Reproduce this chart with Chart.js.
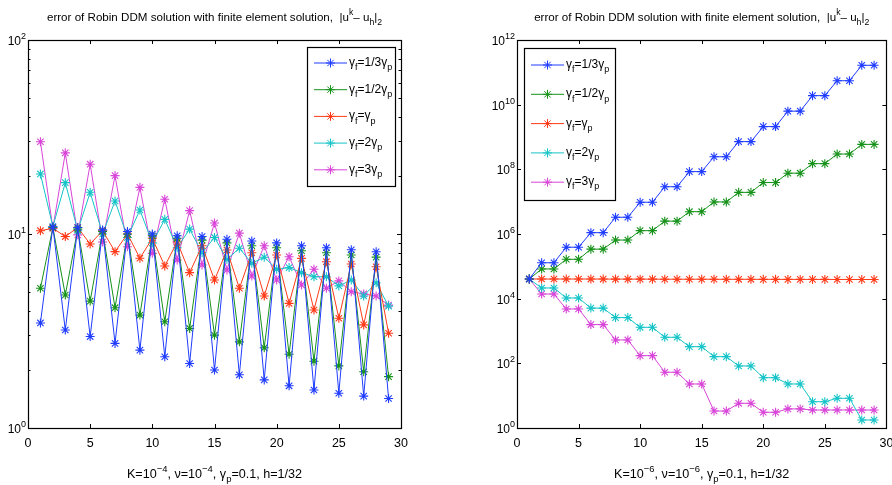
<!DOCTYPE html>
<html>
<head>
<meta charset="utf-8">
<script src="https://cdn.jsdelivr.net/npm/chart.js@4.4.1/dist/chart.umd.min.js"></script>
<style>
  html, body { margin: 0; padding: 0; background: #fff; }
  .panel { position: absolute; top: 0; width: 446px; height: 485px; }
</style>
</head>
<body>
<div class="panel" style="left:0"><canvas id="leftChart"></canvas></div>
<div class="panel" style="left:446px"><canvas id="rightChart"></canvas></div>
<script>
// iteration counter k
var iterations = [1,2,3,4,5,6,7,8,9,10,11,12,13,14,15,16,17,18,19,20,21,22,23,24,25,26,27,28,29];

// legend names (TeX-like: _ subscript, ^ superscript)
var seriesNames = ['γ_f=1/3γ_p', 'γ_f=1/2γ_p', 'γ_f=γ_p', 'γ_f=2γ_p', 'γ_f=3γ_p'];
var seriesColors = ['#1f3cff', '#17921b', '#ff3a18', '#16c4c8', '#d845d8'];

// left panel: K=1e-4
var leftThird = [3.48,10.9,3.2,10.8,2.96,10.5,2.73,10.3,2.52,10.0,2.33,9.8,2.15,9.7,1.99,9.4,1.88,9.2,1.77,9.0,1.65,8.7,1.57,8.5,1.51,8.3,1.46,8.1,1.42];
var leftHalf  = [5.25,10.8,4.85,10.6,4.51,10.3,4.17,10.0,3.82,9.8,3.53,9.5,3.26,9.3,3.01,9.0,2.78,8.7,2.59,8.5,2.40,8.2,2.21,8.0,2.09,7.8,1.95,7.6,1.84];
var leftOne   = [10.4,10.7,9.7,10.8,8.88,10.4,8.11,10.0,7.50,9.5,6.84,9.1,6.32,8.7,5.79,8.27,5.25,8.0,4.79,7.79,4.39,7.49,4.06,7.2,3.68,7.0,3.40,6.78,3.08];
var leftTwo   = [20.4,10.9,18.4,10.4,16.4,10.0,14.8,9.6,13.3,9.0,11.9,8.5,10.6,8.0,9.6,7.4,8.44,7.06,7.59,6.58,6.71,6.32,6.02,6.02,5.40,5.79,4.79,5.61,4.25];
var leftThree = [29.9,10.7,26.2,9.9,22.9,9.1,20.0,8.6,17.4,7.95,15.1,7.35,13.2,6.92,11.4,6.52,10.1,6.07,8.7,5.79,7.64,5.46,6.58,5.25,5.73,5.04,4.91,4.79,4.30];

// right panel: K=1e-6
var rightThird = [4.07e4,1.29e5,1.29e5,3.9e5,3.9e5,1.1e6,1.1e6,3.3e6,3.3e6,9.6e6,9.6e6,2.9e7,2.9e7,8.5e7,8.5e7,2.45e8,2.45e8,7.2e8,7.2e8,2.1e9,2.1e9,6.3e9,6.3e9,1.9e10,1.9e10,5.5e10,5.5e10,1.65e11,1.65e11];
var rightHalf  = [4.07e4,8.3e4,8.3e4,1.65e5,1.65e5,3.4e5,3.4e5,6.5e5,6.5e5,1.27e6,1.27e6,2.5e6,2.5e6,4.9e6,4.9e6,9.8e6,9.8e6,1.94e7,1.94e7,3.9e7,3.9e7,7.6e7,7.6e7,1.5e8,1.5e8,2.97e8,2.97e8,5.9e8,5.9e8];
var rightOne   = [4.07e4,4.05e4,4.05e4,4.05e4,4.05e4,4.04e4,4.04e4,4.03e4,4.03e4,4.02e4,4.02e4,4.0e4,4.0e4,4.0e4,4.0e4,3.98e4,3.98e4,3.97e4,3.97e4,3.96e4,3.96e4,3.95e4,3.95e4,3.94e4,3.94e4,3.93e4,3.93e4,3.92e4,3.92e4];
var rightTwo   = [4.07e4,2.14e4,2.14e4,1.05e4,1.05e4,5.1e3,5.1e3,2.6e3,2.6e3,1.3e3,1.3e3,640,640,328,328,161,161,83,83,36,36,23,23,6.5,6.5,8.3,8.3,1.77,1.77];
var rightThree = [4.07e4,1.39e4,1.39e4,4.8e3,4.8e3,1.58e3,1.58e3,529,529,173,173,53,53,23,23,3.35,3.35,5.8,5.8,3.06,3.06,3.9,3.9,3.6,3.6,3.6,3.6,3.6,3.6];

// axis ticks
var xTicks = [0,5,10,15,20,25,30];
var leftYLabels = [0,1,2];          // exponents
var leftYMinor = [2,3,4,5,6,7,8,9,20,30,40,50,60,70,80,90];
var rightYLabels = [0,2,4,6,8,10,12];

var titleText = 'error of Robin DDM solution with finite element solution,  |u^k– u_h|_2';
var leftXLabel = 'K=10^{−4}, ν=10^{−4}, γ_p=0.1, h=1/32';
var rightXLabel = 'K=10^{−6}, ν=10^{−6}, γ_p=0.1, h=1/32';

var FONT = "'Liberation Sans', Arial, sans-serif";

// split TeX-like string into [text, mode] pieces; mode 1 = sup, -1 = sub
function parseRich(str) {
    var out = [], buf = '', i = 0;
    while (i < str.length) {
        var c = str[i];
        if (c === '_' || c === '^') {
            if (buf) { out.push([buf, 0]); buf = ''; }
            var mode = c === '^' ? 1 : -1, piece;
            if (str[i + 1] === '{') {
                var end = str.indexOf('}', i);
                piece = str.slice(i + 2, end);
                i = end + 1;
            } else {
                piece = str[i + 1];
                i += 2;
            }
            out.push([piece, mode]);
        } else {
            buf += c;
            i++;
        }
    }
    if (buf) out.push([buf, 0]);
    return out;
}

function drawRich(ctx, str, x, y, align, size) {
    var segs = parseRich(str);
    var small = size * 0.75;
    var w = 0;
    segs.forEach(function(s) {
        ctx.font = (s[1] ? small : size) + 'px ' + FONT;
        w += ctx.measureText(s[0]).width;
    });
    var cx = align === 'center' ? x - w / 2 : (align === 'right' ? x - w : x);
    ctx.textAlign = 'left';
    ctx.textBaseline = 'alphabetic';
    segs.forEach(function(s) {
        ctx.font = (s[1] ? small : size) + 'px ' + FONT;
        var dy = s[1] === 1 ? -size * 0.5 : (s[1] === -1 ? size * 0.35 : 0);
        ctx.fillText(s[0], cx, y + dy);
        cx += ctx.measureText(s[0]).width;
    });
}

// matlab-like box, inward ticks, tex labels, legend
var matlabPlugin = {
    id: 'matlab',
    afterDatasetsDraw: function(chart) {
        var o = chart.options.plugins.matlab;
        var ctx = chart.ctx, a = chart.chartArea;
        var xs = chart.scales.x, ys = chart.scales.y;
        ctx.save();
        ctx.strokeStyle = '#000';
        ctx.fillStyle = '#000';
        ctx.lineWidth = 1;
        ctx.beginPath();
        xTicks.forEach(function(t) {
            var px = Math.round(xs.getPixelForValue(t)) + 0.5;
            ctx.moveTo(px, a.bottom); ctx.lineTo(px, a.bottom - 4);
            ctx.moveTo(px, a.top); ctx.lineTo(px, a.top + 4);
        });
        o.yLabels.forEach(function(e) {
            var py = Math.round(ys.getPixelForValue(Math.pow(10, e))) + 0.5;
            ctx.moveTo(a.left, py); ctx.lineTo(a.left + 4, py);
            ctx.moveTo(a.right, py); ctx.lineTo(a.right - 4, py);
        });
        o.yMinor.forEach(function(v) {
            var py = Math.round(ys.getPixelForValue(v)) + 0.5;
            ctx.moveTo(a.left, py); ctx.lineTo(a.left + 2.5, py);
            ctx.moveTo(a.right, py); ctx.lineTo(a.right - 2.5, py);
        });
        ctx.stroke();
        ctx.lineWidth = 1.2;
        ctx.strokeRect(Math.round(a.left) + 0.5, Math.round(a.top) + 0.5,
            Math.round(a.right - a.left), Math.round(a.bottom - a.top));

        // y labels
        o.yLabels.forEach(function(e) {
            var py = ys.getPixelForValue(Math.pow(10, e));
            drawRich(ctx, '10^{' + e + '}', a.left - 2, py + 5, 'right', 12);
        });
        // x tick labels
        ctx.font = '12.5px ' + FONT;
        ctx.textAlign = 'center';
        ctx.textBaseline = 'alphabetic';
        xTicks.forEach(function(t) {
            ctx.fillText(String(t), xs.getPixelForValue(t), a.bottom + 19);
        });
        // title and x label
        var mid = (a.left + a.right) / 2;
        drawRich(ctx, titleText, mid, 21, 'center', 11.6);
        drawRich(ctx, o.xLabel, mid, 478, 'center', 12.6);

        // legend
        var L = o.legend;
        ctx.fillStyle = '#fff';
        ctx.fillRect(L.left, L.top, L.width, L.height);
        ctx.strokeStyle = '#000';
        ctx.lineWidth = 1.2;
        ctx.strokeRect(L.left + 0.5, L.top + 0.5, L.width, L.height);
        chart.data.datasets.forEach(function(ds, i) {
            var yy = L.top + L.first + i * L.step;
            ctx.strokeStyle = ds.borderColor;
            ctx.lineWidth = 1;
            ctx.beginPath();
            ctx.moveTo(L.left + 7, yy); ctx.lineTo(L.left + 40, yy);
            ctx.stroke();
            Chart.helpers.drawPoint(ctx, {pointStyle: 'star', radius: 4.5, borderWidth: 1},
                L.left + 23.5, yy);
            ctx.fillStyle = '#000';
            drawRich(ctx, seriesNames[i], L.left + 42, yy + 3, 'left', 12);
        });
        ctx.restore();
    }
};

function makeDatasets(arrs) {
    return arrs.map(function(vals, i) {
        return {
            label: seriesNames[i],
            data: iterations.map(function(k, j) { return {x: k, y: vals[j]}; }),
            borderColor: seriesColors[i],
            backgroundColor: seriesColors[i],
            pointBorderColor: seriesColors[i],
            borderWidth: 1,
            pointStyle: 'star',
            pointRadius: 4.5,
            pointBorderWidth: 1.1,
            tension: 0,
            fill: false
        };
    });
}

function makeChart(id, arrs, yMax, axisW, padRight, extra) {
    return new Chart(document.getElementById(id), {
        type: 'line',
        data: { datasets: makeDatasets(arrs) },
        options: {
            responsive: true,
            maintainAspectRatio: false,
            animation: false,
            layout: { padding: { top: 40, right: padRight, left: 0, bottom: 0 } },
            scales: {
                x: {
                    type: 'linear', min: 0, max: 30,
                    ticks: { display: false },
                    grid: { display: false },
                    border: { display: false },
                    afterFit: function(s) { s.height = 57; }
                },
                y: {
                    type: 'logarithmic', min: 1, max: yMax,
                    ticks: { display: false },
                    grid: { display: false },
                    border: { display: false },
                    afterFit: function(s) { s.width = axisW; }
                }
            },
            plugins: {
                legend: { display: false },
                tooltip: { enabled: false },
                matlab: extra
            }
        },
        plugins: [matlabPlugin]
    });
}

makeChart('leftChart', [leftThird, leftHalf, leftOne, leftTwo, leftThree], 100, 28, 45, {
    yLabels: leftYLabels, yMinor: leftYMinor, xLabel: leftXLabel,
    legend: { left: 307, top: 47, width: 88, height: 139, first: 16, step: 26.7 }
});
makeChart('rightChart', [rightThird, rightHalf, rightOne, rightTwo, rightThree], 1e12, 71, 3, {
    yLabels: rightYLabels, yMinor: [], xLabel: rightXLabel,
    legend: { left: 78, top: 48, width: 91, height: 152, first: 17, step: 29.3 }
});
</script>
</body>
</html>
